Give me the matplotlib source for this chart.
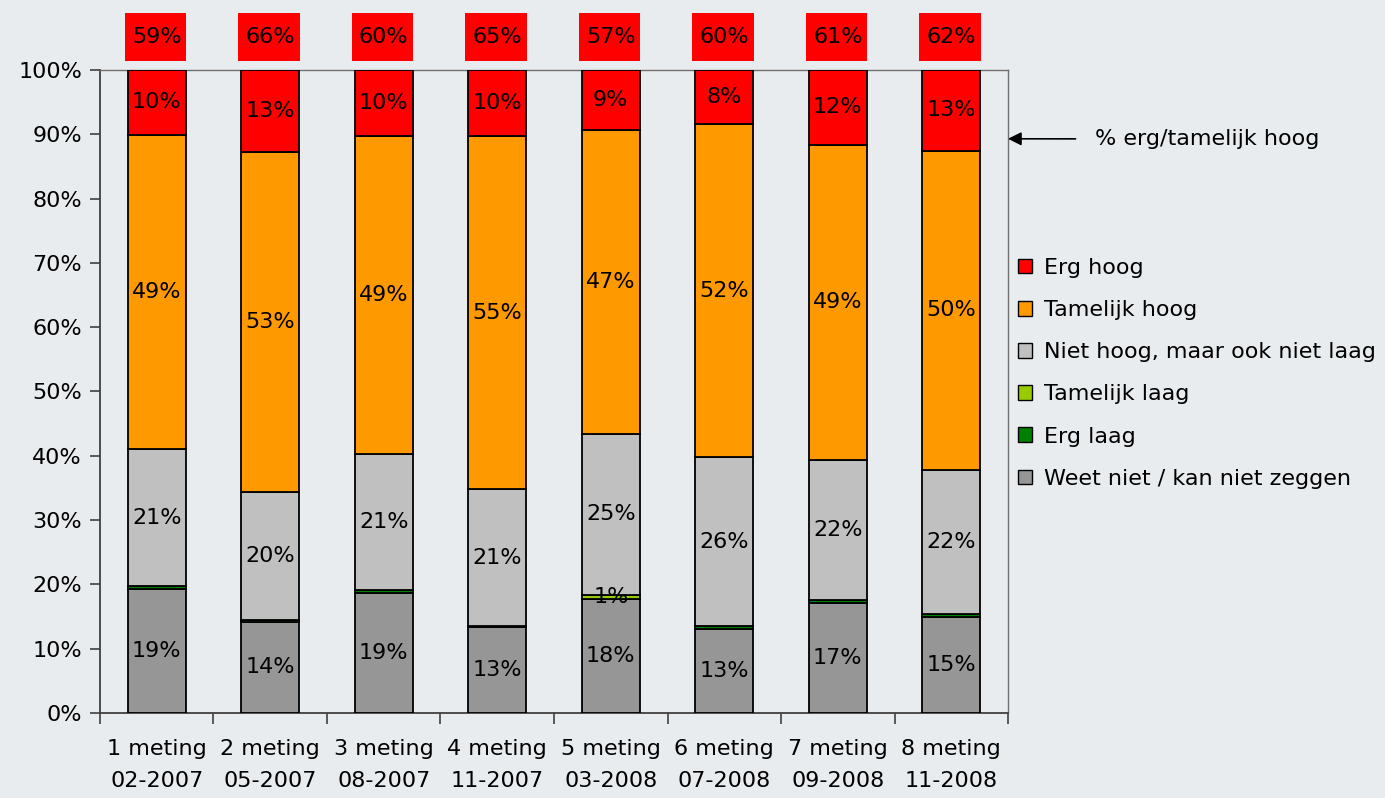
import matplotlib.pyplot as plt
import matplotlib.transforms as mtransforms
from matplotlib.patches import Rectangle, Patch
import numpy as np

categories = ['1 meting\n02-2007', '2 meting\n05-2007', '3 meting\n08-2007', '4 meting\n11-2007',
              '5 meting\n03-2008', '6 meting\n07-2008', '7 meting\n09-2008', '8 meting\n11-2008']

weet_niet      = [19.3, 14.2, 18.7, 13.4, 17.7, 13.1, 17.1, 14.9]
erg_laag       = [0.4, 0.2, 0.4, 0.1, 0.1, 0.4, 0.4, 0.5]
tamelijk_laag  = [0.0, 0.0, 0.0, 0.0, 0.6, 0.0, 0.0, 0.0]
niet_hoog      = [21.4, 20.0, 21.2, 21.3, 25.0, 26.3, 21.8, 22.4]
tamelijk_hoog  = [48.8, 52.8, 49.4, 54.9, 47.2, 51.8, 49.1, 49.6]
erg_hoog       = [10.1, 12.8, 10.3, 10.3, 9.4, 8.4, 11.6, 12.6]

series = [
    ('Weet niet / kan niet zeggen', weet_niet, '#969696', True),
    ('Erg laag', erg_laag, '#008000', False),
    ('Tamelijk laag', tamelijk_laag, '#99CC00', True),
    ('Niet hoog, maar ook niet laag', niet_hoog, '#C0C0C0', True),
    ('Tamelijk hoog', tamelijk_hoog, '#FF9900', True),
    ('Erg hoog', erg_hoog, '#FF0000', True),
]

BG = '#E9ECEE'
FS = 16

fig = plt.figure(figsize=(13.85, 7.98), dpi=100, facecolor=BG)
ax = fig.add_axes([0.0722, 0.1065, 0.6556, 0.8058])
ax.set_facecolor(BG)

x = np.arange(len(categories))
width = 0.51
bottom = np.zeros(len(categories))
for name, vals, color, show_lbl in series:
    vals = np.array(vals)
    ax.bar(x, vals, width, bottom=bottom, color=color, edgecolor='black',
           linewidth=1.3, label=name, zorder=3)
    if show_lbl:
        for xi, b, v in zip(x, bottom, vals):
            if v > 0:
                ax.text(xi, b + v / 2, f'{v:.0f}%', ha='center', va='center',
                        fontsize=FS, color='black', zorder=4)
    bottom += vals

# red boxes on top: erg + tamelijk hoog
trans = mtransforms.blended_transform_factory(ax.transData, ax.transAxes)
for xi, a, b in zip(x, erg_hoog, tamelijk_hoog):
    ax.add_patch(Rectangle((xi - 0.28, 1.014), 0.54, 0.075, transform=trans,
                           facecolor='#FF0000', edgecolor='none', clip_on=False))
    ax.text(xi, 1.052, f'{a + b:.0f}%', transform=trans, ha='center', va='center',
            fontsize=FS, color='black')

ax.set_xlim(-0.5, len(categories) - 0.5)
ax.set_ylim(0, 100)
ax.set_yticks(np.arange(0, 101, 10))
ax.set_yticklabels([f'{v}%' for v in range(0, 101, 10)], fontsize=FS)
ax.tick_params(axis='y', direction='out', length=7, width=1.2, color='#404040', pad=6)

# ticks between the bars, labels under the bars
ax.set_xticks(np.arange(-0.5, len(categories), 1.0))
ax.set_xticklabels([])
ax.set_xticks(x, minor=True)
ax.set_xticklabels(categories, minor=True, fontsize=FS, linespacing=1.75)
ax.tick_params(axis='x', which='major', direction='out', length=8, width=1.2, color='#404040')
ax.tick_params(axis='x', which='minor', length=0, pad=19)

for side in ['left', 'bottom']:
    ax.spines[side].set_color('#404040')
    ax.spines[side].set_linewidth(1.3)
for side in ['top', 'right']:
    ax.spines[side].set_color('#707070')
    ax.spines[side].set_linewidth(1.0)

# annotation arrow
ax.annotate('% erg/tamelijk hoog', xy=(1.0, 0.893), xycoords='axes fraction',
            xytext=(1095 / 1385, 1 - 139 / 798), textcoords='figure fraction',
            ha='left', va='center', fontsize=FS,
            arrowprops=dict(arrowstyle='-|>', color='black', lw=1.2,
                            shrinkA=12, shrinkB=0, mutation_scale=20))

# legend (top to bottom reversed)
handles = [Patch(facecolor=c, edgecolor='black', linewidth=1.0, label=n)
           for n, v, c, s in series][::-1]
fig.legend(handles=handles, loc='upper left', bbox_to_anchor=(0.735, 0.677),
           frameon=False, fontsize=FS, handlelength=0.65, handleheight=0.65,
           handletextpad=0.5, labelspacing=1.0, borderpad=0, borderaxespad=0)

fig.savefig('out.png', dpi=100, facecolor=BG)
